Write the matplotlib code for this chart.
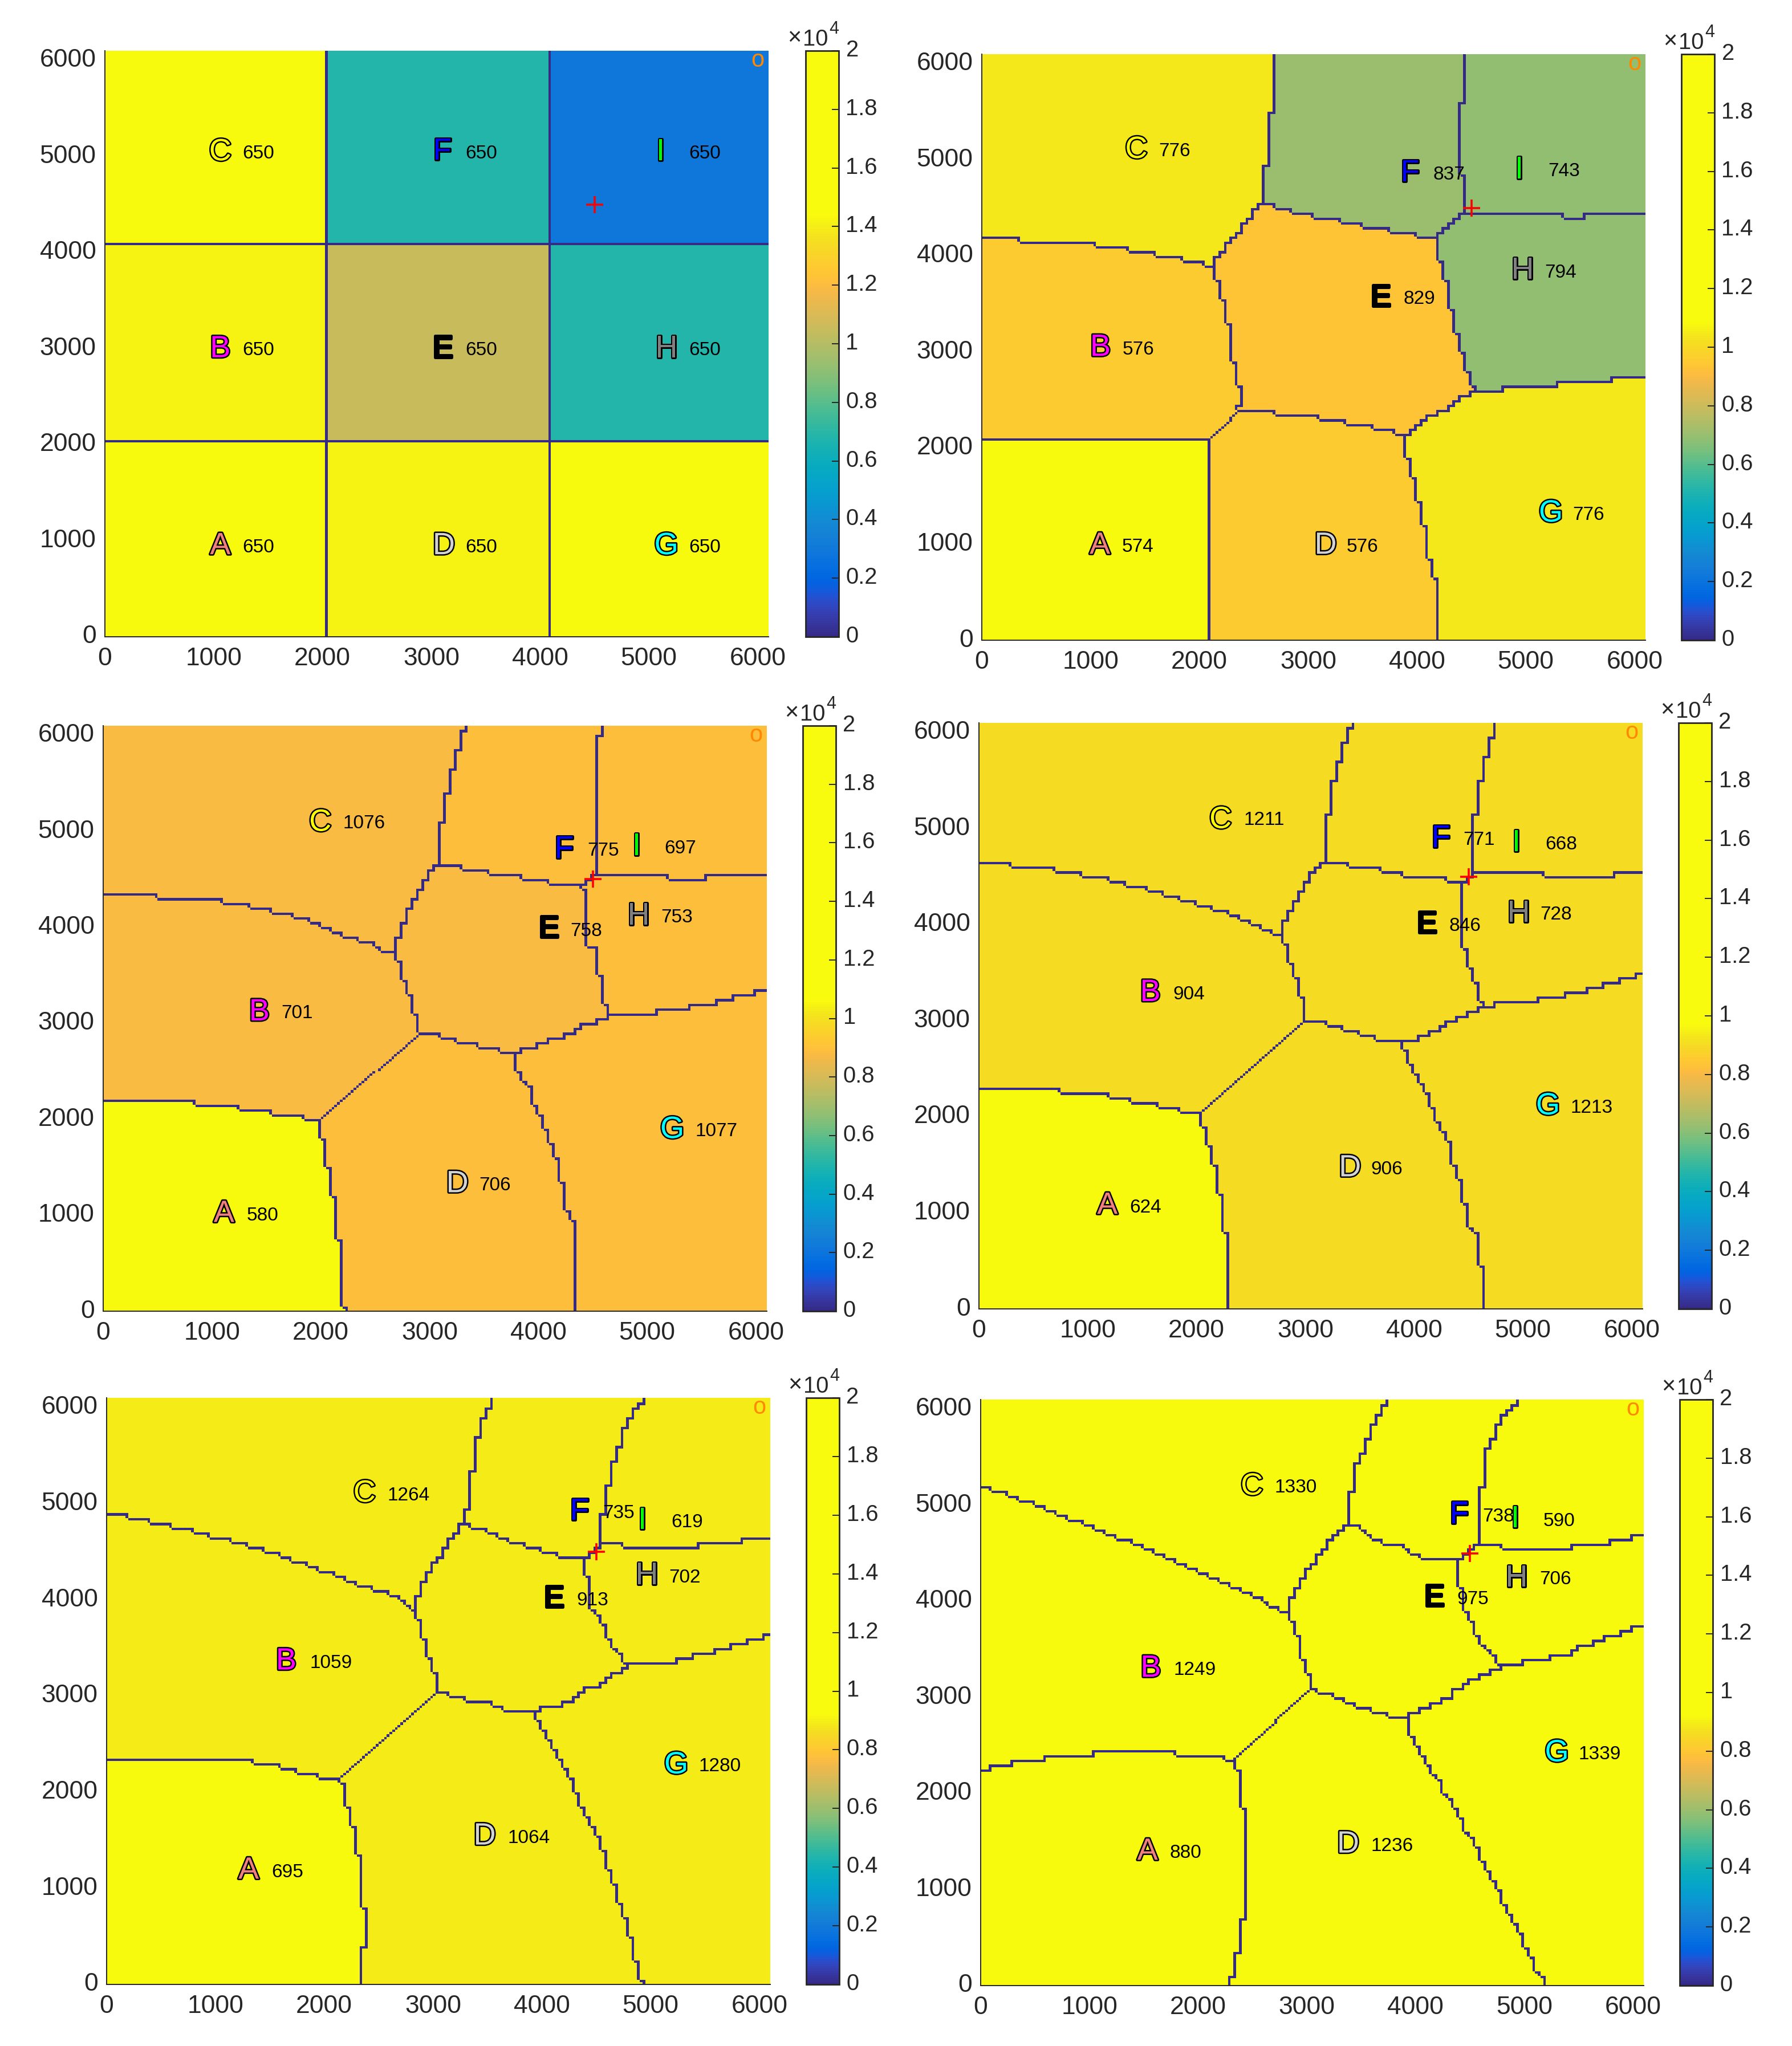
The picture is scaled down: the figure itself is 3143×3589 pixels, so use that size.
import numpy as np
import matplotlib
matplotlib.use("Agg")
import matplotlib.pyplot as plt
import matplotlib.patheffects as pe
from matplotlib.colors import ListedColormap, Normalize
from matplotlib.cm import ScalarMappable
from matplotlib.path import Path
from matplotlib.transforms import ScaledTranslation

plt.rcParams['font.family'] = ['Liberation Sans', 'DejaVu Sans']

LETTERS = list("ABCDEFGHI")
LETTER_COLORS = ['#f08080', '#ff00ff', '#ffff00', '#d3d3d3', '#000000', '#0000ff', '#00ffff', '#808080', '#00ff00']
TICKS_XY = [0, 1000, 2000, 3000, 4000, 5000, 6000]
CBAR_TICKS = [0, 2000, 4000, 6000, 8000, 10000, 12000, 14000, 16000, 18000, 20000]
CBAR_LABELS = ['0', '0.2', '0.4', '0.6', '0.8', '1', '1.2', '1.4', '1.6', '1.8', '2']

# colour-scale top (value at which the map reaches full yellow) per panel
CLAMPS = [14400, 10850, 10600, 9700, 9200, 9200]

# per panel: cell values A..I
P1_VALUES = [15000, 14200, 15000, 14200, 10500, 6860, 15000, 6860, 2900]
P2_VALUES = [11000, 9550, 10400, 9550, 9350, 7060, 10400, 6900, 6890]
P3_VALUES = [11000, 8800, 8800, 8950, 8750, 8950, 8950, 8950, 8950]
P4_VALUES = [10000, 9000, 9000, 9000, 9000, 9000, 9000, 9000, 9000]
P5_VALUES = [9500, 8950, 8950, 8950, 8950, 8950, 8950, 8950, 8950]
P6_VALUES = [12000, 12000, 12000, 12000, 12000, 12000, 12000, 12000, 12000]

# per panel: counts shown beside the letters, A..I
P1_COUNTS = [650, 650, 650, 650, 650, 650, 650, 650, 650]
P2_COUNTS = [574, 576, 776, 576, 829, 837, 776, 794, 743]
P3_COUNTS = [580, 701, 1076, 706, 758, 775, 1077, 753, 697]
P4_COUNTS = [624, 904, 1211, 906, 846, 771, 1213, 728, 668]
P5_COUNTS = [695, 1059, 1264, 1064, 913, 735, 1280, 702, 619]
P6_COUNTS = [880, 1249, 1330, 1236, 975, 738, 1339, 706, 590]

# letter and count positions, A..I
P1_LX = [1050, 1050, 1050, 3105, 3095, 3090, 5150, 5150, 5095]
P1_LY = [975, 3025, 5075, 975, 3025, 5080, 975, 3025, 5075]
P1_NX = [1405, 1405, 1405, 3455, 3455, 3455, 5510, 5510, 5510]
P1_NY = [960, 3010, 5060, 960, 3010, 5060, 960, 3010, 5060]
P2_LX = [1075, 1080, 1410, 3150, 3655, 3925, 5220, 4960, 4930]
P2_LY = [1015, 3075, 5135, 1015, 3590, 4890, 1350, 3875, 4925]
P2_NX = [1430, 1435, 1765, 3495, 4015, 4290, 5570, 5315, 5345]
P2_NY = [1000, 3055, 5120, 1000, 3580, 4875, 1335, 3855, 4910]
P3_LX = [1100, 1425, 1985, 3245, 4085, 4225, 5220, 4910, 4890]
P3_LY = [1045, 3145, 5120, 1355, 4010, 4840, 1920, 4145, 4870]
P3_NX = [1460, 1775, 2395, 3595, 4435, 4590, 5630, 5265, 5300]
P3_NY = [1025, 3135, 5110, 1340, 3990, 4825, 1905, 4130, 4850]
P4_LX = [1170, 1565, 2210, 3400, 4105, 4235, 5220, 4950, 4930]
P4_LY = [1105, 3320, 5120, 1495, 4030, 4925, 2140, 4145, 4880]
P4_NX = [1525, 1925, 2615, 3745, 4460, 4590, 5625, 5300, 5345]
P4_NY = [1085, 3305, 5120, 1480, 4015, 4910, 2120, 4135, 4860]
P5_LX = [1295, 1640, 2360, 3465, 4100, 4335, 5225, 4955, 4915]
P5_LY = [1215, 3390, 5135, 1570, 4040, 4945, 2310, 4280, 4850]
P5_NX = [1655, 2055, 2770, 3875, 4460, 4700, 5630, 5310, 5330]
P5_NY = [1195, 3370, 5115, 1550, 4020, 4930, 2295, 4260, 4835]
P6_LX = [1525, 1555, 2485, 3370, 4160, 4390, 5290, 4920, 4905]
P6_LY = [1425, 3330, 5225, 1500, 4065, 4930, 2450, 4270, 4885]
P6_NX = [1880, 1965, 2895, 3780, 4525, 4760, 5690, 5280, 5315]
P6_NY = [1410, 3315, 5215, 1480, 4050, 4910, 2435, 4255, 4865]

# region borders; each runs between two junctions or the frame
P1_AB = [(0, 2045), (2045, 2045)]
P1_AD = [(2045, 2045), (2045, 0)]
P1_BD = [(2045, 2045), (2045, 2045)]
P1_BC = [(0, 4090), (2045, 4090)]
P1_BE = [(2045, 2045), (2045, 4090)]
P1_CE = [(2045, 4090), (2045, 4090)]
P1_CF = [(2045, 4090), (2045, 6100)]
P1_EF = [(2045, 4090), (4090, 4090)]
P1_FH = [(4090, 4090), (4090, 4090)]
P1_FI = [(4090, 4090), (4090, 6100)]
P1_HI = [(4090, 4090), (6100, 4090)]
P1_EH = [(4090, 4090), (4090, 2045)]
P1_GH = [(4090, 2045), (6100, 2045)]
P1_EG = [(4090, 2045), (4090, 2045)]
P1_DE = [(2045, 2045), (4090, 2045)]
P1_DG = [(4090, 2045), (4090, 0)]

P2_AB = [(0, 2090), (2090, 2090)]
P2_AD = [(2090, 2090), (2090, 0)]
P2_BD = [(2090, 2090), (2300, 2300), (2370, 2395)]
P2_BC = [(0, 4190), (600, 4165), (1100, 4120), (1400, 4065), (1650, 4020), (1850, 3970), (2040, 3930), (2130, 3890)]
P2_BE = [(2370, 2395), (2390, 2600), (2340, 2800), (2290, 3200), (2240, 3500), (2190, 3730), (2130, 3890)]
P2_CE = [(2130, 3890), (2195, 4030), (2340, 4210), (2440, 4370), (2545, 4530), (2590, 4550)]
P2_CF = [(2590, 4550), (2600, 4900), (2650, 5000), (2650, 5450), (2700, 5550), (2700, 6100)]
P2_EF = [(2590, 4550), (2900, 4460), (3150, 4410), (3350, 4360), (3600, 4310), (3850, 4260), (4030, 4210), (4180, 4180)]
P2_FH = [(4180, 4180), (4430, 4440)]
P2_FI = [(4430, 4440), (4430, 4840), (4385, 4850), (4385, 5590), (4430, 5600), (4430, 6100)]
P2_HI = [(4430, 4440), (5340, 4440), (5370, 4395), (5530, 4395), (5560, 4440), (6100, 4440)]
P2_EH = [(4180, 4180), (4190, 4050), (4240, 3900), (4290, 3650), (4340, 3350), (4390, 3170), (4440, 2960), (4490, 2760), (4540, 2600)]
P2_GH = [(4540, 2600), (4780, 2600), (4800, 2640), (5280, 2640), (5320, 2690), (5790, 2690), (5800, 2740), (6100, 2740)]
P2_EG = [(3900, 2140), (4005, 2245), (4160, 2350), (4320, 2440), (4425, 2530), (4540, 2600)]
P2_DE = [(2370, 2395), (2590, 2390), (2990, 2340), (3300, 2290), (3530, 2240), (3750, 2190), (3900, 2140)]
P2_DG = [(3900, 2140), (3890, 2050), (3940, 1850), (3990, 1640), (4035, 1400), (4090, 1100), (4140, 720), (4190, 650), (4190, 0)]

P3_AB = [(0, 2240), (40, 2190), (730, 2190), (1140, 2140), (1450, 2090), (1745, 2040), (2000, 1995)]
P3_AD = [(2000, 1995), (2005, 1810), (2050, 1780), (2050, 1510), (2090, 1490), (2090, 1220), (2140, 1190), (2140, 760), (2185, 740), (2185, 60), (2250, 40), (2250, 0)]
P3_BD = [(2000, 1995), (2930, 2890)]
P3_BC = [(0, 4337), (680, 4320), (1140, 4270), (1400, 4215), (1600, 4165), (1800, 4110), (1950, 4060), (2050, 3990), (2170, 3940), (2300, 3890), (2410, 3840), (2550, 3820), (2590, 3740), (2685, 3735)]
P3_BE = [(2930, 2890), (2895, 2950), (2890, 3070), (2840, 3240), (2790, 3400), (2745, 3600), (2685, 3735)]
P3_CE = [(2685, 3735), (2700, 3850), (2740, 3940), (2790, 4120), (2850, 4240), (2905, 4350), (2955, 4440), (3010, 4555), (3060, 4640)]
P3_CF = [(3060, 4640), (3100, 4650), (3100, 5080), (3140, 5120), (3140, 5370), (3190, 5400), (3190, 5620), (3235, 5650), (3235, 5820), (3285, 5850), (3285, 6030), (3340, 6045), (3340, 6100)]
P3_EF = [(3060, 4640), (3290, 4630), (3600, 4570), (3900, 4520), (4150, 4460), (4390, 4432)]
P3_FH = [(4390, 4432), (4510, 4530)]
P3_FI = [(4510, 4530), (4540, 4545), (4540, 5965), (4590, 6000), (4590, 6100)]
P3_HI = [(4510, 4530), (5185, 4540), (5210, 4490), (5535, 4490), (5560, 4540), (6100, 4540)]
P3_EH = [(4390, 4432), (4435, 4370), (4440, 3805), (4535, 3780), (4535, 3495), (4585, 3490), (4585, 3190), (4645, 3180), (4645, 3070)]
P3_GH = [(4645, 3070), (4650, 3090), (5080, 3090), (5105, 3140), (5380, 3140), (5400, 3190), (5630, 3190), (5645, 3240), (5800, 3240), (5810, 3290), (5980, 3290), (6010, 3340), (6100, 3340)]
P3_EG = [(3794, 2680), (3900, 2740), (4030, 2785), (4160, 2845), (4290, 2895), (4450, 2990), (4645, 3070)]
P3_DE = [(2930, 2890), (3090, 2880), (3245, 2830), (3430, 2785), (3585, 2740), (3794, 2680)]
P3_DG = [(3794, 2680), (3785, 2640), (3850, 2440), (3925, 2330), (3990, 2100), (4055, 1990), (4110, 1805), (4145, 1695), (4200, 1490), (4240, 1240), (4290, 945), (4335, 930), (4335, 0)]

P4_AB = [(0, 2293), (730, 2280), (1190, 2225), (1440, 2170), (1700, 2120), (1910, 2060), (2050, 2030)]
P4_AD = [(2050, 2030), (2050, 1900), (2095, 1880), (2095, 1700), (2140, 1680), (2140, 1490), (2190, 1480), (2190, 1195), (2240, 1190), (2240, 800), (2290, 790), (2290, 0)]
P4_BD = [(2050, 2030), (3020, 3000)]
P4_BC = [(0, 4641), (380, 4620), (750, 4565), (1000, 4515), (1250, 4460), (1460, 4400), (1600, 4360), (1750, 4315), (1900, 4260), (2065, 4195), (2290, 4140), (2400, 4075), (2500, 4030), (2590, 3985), (2700, 3915), (2790, 3880)]
P4_BE = [(3020, 3000), (2985, 3190), (2945, 3380), (2895, 3545), (2840, 3735), (2790, 3880)]
P4_CE = [(2790, 3880), (2800, 3990), (2850, 4100), (2905, 4215), (2955, 4330), (3010, 4420), (3050, 4510), (3100, 4600), (3190, 4680)]
P4_CF = [(3190, 4680), (3190, 5120), (3245, 5150), (3245, 5470), (3295, 5500), (3295, 5690), (3350, 5710), (3350, 5890), (3390, 5910), (3390, 6030), (3440, 6045), (3440, 6100)]
P4_EF = [(3190, 4680), (3300, 4640), (3510, 4600), (3745, 4565), (3980, 4510), (4345, 4470), (4430, 4430)]
P4_FH = [(4430, 4430), (4540, 4540)]
P4_FI = [(4540, 4540), (4545, 5120), (4590, 5145), (4590, 5470), (4645, 5490), (4645, 5735), (4690, 5760), (4690, 5940), (4740, 5970), (4740, 6100)]
P4_HI = [(4540, 4540), (5185, 4540), (5200, 4490), (5830, 4490), (5850, 4540), (6100, 4540)]
P4_EH = [(4430, 4430), (4435, 3760), (4490, 3750), (4490, 3620), (4540, 3530), (4585, 3350), (4635, 3190), (4650, 3170)]
P4_GH = [(4650, 3170), (5115, 3190), (5160, 3240), (5370, 3240), (5410, 3290), (5580, 3290), (5600, 3340), (5740, 3340), (5760, 3385), (5900, 3385), (5920, 3440), (6050, 3440), (6060, 3490), (6100, 3490)]
P4_EG = [(3890, 2784), (3970, 2780), (4085, 2850), (4190, 2895), (4290, 2965), (4425, 3035), (4580, 3100), (4650, 3170)]
P4_DE = [(3020, 3000), (3190, 2985), (3375, 2920), (3560, 2850), (3745, 2795), (3890, 2784)]
P4_DG = [(3890, 2784), (3950, 2600), (4005, 2490), (4085, 2330), (4150, 2170), (4205, 2035), (4250, 1900), (4320, 1785), (4355, 1600), (4395, 1445), (4450, 1240), (4490, 1035), (4540, 800), (4590, 790), (4590, 450), (4640, 440), (4640, 0)]

P5_AB = [(0, 2348), (1235, 2345), (1600, 2270), (1810, 2215), (2005, 2165), (2165, 2145)]
P5_AD = [(2165, 2145), (2190, 2030), (2190, 1850), (2245, 1840), (2245, 1660), (2290, 1640), (2290, 1345), (2345, 1340), (2345, 795), (2390, 790), (2390, 405), (2345, 380), (2345, 0)]
P5_BD = [(2165, 2145), (3055, 3040)]
P5_BC = [(0, 4906), (200, 4880), (410, 4825), (610, 4770), (800, 4720), (960, 4675), (1160, 4625), (1310, 4575), (1460, 4520), (1615, 4470), (1720, 4425), (1875, 4370), (1965, 4325), (2110, 4280), (2215, 4220), (2375, 4140), (2530, 4095), (2660, 4040), (2770, 3955), (2840, 3895)]
P5_BE = [(3055, 3040), (3045, 3190), (2990, 3345), (2940, 3545), (2890, 3740), (2840, 3895)]
P5_CE = [(2840, 3895), (2840, 3945), (2890, 4120), (2940, 4230), (3000, 4345), (3100, 4505), (3160, 4600), (3240, 4735), (3300, 4805)]
P5_CF = [(3300, 4805), (3295, 4950), (3345, 4965), (3345, 5330), (3395, 5355), (3395, 5605), (3450, 5790), (3490, 5950), (3545, 6040), (3545, 6100)]
P5_EF = [(3300, 4805), (3475, 4735), (3595, 4665), (3735, 4620), (3870, 4555), (4050, 4505), (4210, 4450), (4420, 4445)]
P5_FH = [(4420, 4445), (4540, 4590)]
P5_FI = [(4540, 4590), (4540, 4815), (4590, 4965), (4640, 5300), (4690, 5515), (4745, 5675), (4785, 5815), (4840, 5950), (4890, 6020), (4945, 6050), (4945, 6100)]
P5_HI = [(4540, 4590), (4735, 4590), (4760, 4545), (5425, 4545), (5450, 4595), (5825, 4595), (5850, 4650), (6050, 4650), (6100, 4680)]
P5_EH = [(4420, 4445), (4392, 4438), (4392, 4255), (4445, 4230), (4445, 3935), (4495, 3910), (4550, 3795), (4600, 3680), (4645, 3545), (4735, 3450), (4800, 3300)]
P5_GH = [(4800, 3300), (4810, 3340), (5230, 3340), (5265, 3390), (5465, 3440), (5650, 3490), (5835, 3545), (5910, 3590), (6045, 3625), (6100, 3660)]
P5_EG = [(3925, 2845), (4180, 2925), (4340, 2995), (4420, 3085), (4575, 3140), (4655, 3225), (4800, 3300)]
P5_DE = [(3055, 3040), (3190, 3020), (3345, 2950), (3540, 2925), (3710, 2860), (3925, 2845)]
P5_DG = [(3925, 2845), (3975, 2740), (4025, 2650), (4080, 2535), (4130, 2445), (4180, 2330), (4235, 2215), (4285, 2125), (4325, 1985), (4375, 1870), (4420, 1755), (4480, 1640), (4535, 1505), (4585, 1345), (4630, 1205), (4680, 1045), (4720, 885), (4770, 700), (4810, 550), (4865, 360), (4890, 105), (4940, 60), (4940, 0)]

P6_AB = [(0, 2247), (85, 2247), (110, 2295), (285, 2295), (305, 2350), (590, 2350), (590, 2395), (1050, 2395), (1050, 2445), (1795, 2445), (1800, 2395), (2260, 2395), (2280, 2345), (2340, 2340)]
P6_AD = [(2340, 2340), (2340, 2250), (2385, 2230), (2385, 1860), (2430, 1840), (2430, 715), (2385, 690), (2385, 350), (2340, 325), (2340, 95), (2285, 75), (2285, 0)]
P6_BD = [(2340, 2340), (3045, 3090)]
P6_BC = [(0, 5205), (110, 5180), (250, 5130), (460, 5035), (600, 4985), (800, 4880), (1050, 4775), (1260, 4675), (1505, 4570), (1700, 4470), (1920, 4375), (2110, 4280), (2330, 4170), (2520, 4060), (2720, 3950), (2825, 3900)]
P6_BE = [(3045, 3090), (3035, 3240), (2980, 3395), (2940, 3580), (2890, 3765), (2825, 3900)]
P6_CE = [(2825, 3900), (2890, 4085), (2940, 4175), (2995, 4315), (3095, 4430), (3200, 4610), (3295, 4725), (3385, 4805)]
P6_CF = [(3385, 4805), (3385, 5140), (3430, 5165), (3430, 5390), (3530, 5575), (3580, 5715), (3630, 5875), (3685, 5990), (3735, 6040), (3735, 6100)]
P6_EF = [(3385, 4805), (3490, 4795), (3545, 4705), (3740, 4600), (3875, 4600), (3990, 4500), (4135, 4450), (4400, 4445)]
P6_FH = [(4400, 4445), (4575, 4600)]
P6_FI = [(4575, 4600), (4575, 5185), (4625, 5210), (4625, 5460), (4680, 5600), (4730, 5735), (4785, 5850), (4835, 5965), (4890, 6020), (4970, 6060), (4970, 6100)]
P6_HI = [(4575, 4600), (4775, 4600), (4800, 4555), (5420, 4555), (5445, 4600), (5795, 4600), (5815, 4650), (6015, 4650), (6020, 4695), (6100, 4695)]
P6_EH = [(4400, 4445), (4380, 4180), (4435, 4155), (4485, 3855), (4540, 3765), (4590, 3625), (4670, 3510), (4750, 3395), (4790, 3330)]
P6_GH = [(4790, 3330), (4970, 3340), (4995, 3395), (5245, 3395), (5265, 3445), (5440, 3445), (5460, 3500), (5560, 3550), (5690, 3580), (5770, 3625), (5885, 3675), (6005, 3720), (6100, 3775)]
P6_EG = [(3936, 2825), (4145, 2915), (4305, 3000), (4380, 3090), (4550, 3200), (4670, 3260), (4790, 3330)]
P6_DE = [(3045, 3090), (3230, 3030), (3410, 2960), (3490, 2895), (3700, 2850), (3855, 2795), (3936, 2825)]
P6_DG = [(3936, 2825), (3936, 2710), (4015, 2525), (4065, 2410), (4145, 2275), (4225, 2135), (4275, 2000), (4355, 1885), (4410, 1770), (4485, 1585), (4565, 1470), (4615, 1335), (4695, 1175), (4775, 1015), (4825, 875), (4890, 715), (4960, 580), (5010, 415), (5080, 305), (5125, 140), (5185, 70), (5185, 0)]

RED_X, RED_Y = [4500], [4500]
CORNER_X, CORNER_Y = 6000, 6000

PARULA = np.array([
    [0.2081,0.1663,0.5292],[0.2116,0.1898,0.5777],[0.2123,0.2138,0.6270],[0.2081,0.2386,0.6771],
    [0.1959,0.2645,0.7279],[0.1707,0.2919,0.7792],[0.1253,0.3242,0.8303],[0.0591,0.3598,0.8683],
    [0.0117,0.3875,0.8820],[0.0060,0.4086,0.8828],[0.0165,0.4266,0.8786],[0.0329,0.4430,0.8720],
    [0.0498,0.4586,0.8641],[0.0629,0.4737,0.8554],[0.0723,0.4887,0.8467],[0.0779,0.5040,0.8384],
    [0.0793,0.5200,0.8312],[0.0749,0.5375,0.8263],[0.0641,0.5570,0.8240],[0.0488,0.5772,0.8228],
    [0.0343,0.5966,0.8199],[0.0265,0.6137,0.8135],[0.0239,0.6287,0.8038],[0.0231,0.6418,0.7913],
    [0.0228,0.6535,0.7768],[0.0267,0.6642,0.7607],[0.0384,0.6743,0.7436],[0.0590,0.6838,0.7254],
    [0.0843,0.6928,0.7062],[0.1133,0.7015,0.6859],[0.1453,0.7098,0.6646],[0.1801,0.7177,0.6424],
    [0.2178,0.7250,0.6193],[0.2586,0.7317,0.5954],[0.3022,0.7376,0.5712],[0.3482,0.7424,0.5473],
    [0.3953,0.7459,0.5244],[0.4420,0.7481,0.5033],[0.4871,0.7491,0.4840],[0.5300,0.7491,0.4661],
    [0.5709,0.7485,0.4494],[0.6099,0.7473,0.4337],[0.6473,0.7456,0.4188],[0.6834,0.7435,0.4044],
    [0.7184,0.7411,0.3905],[0.7525,0.7384,0.3768],[0.7858,0.7356,0.3633],[0.8185,0.7327,0.3498],
    [0.8507,0.7299,0.3360],[0.8824,0.7274,0.3217],[0.9139,0.7258,0.3063],[0.9450,0.7261,0.2886],
    [0.9739,0.7314,0.2666],[0.9938,0.7455,0.2403],[0.9990,0.7653,0.2164],[0.9955,0.7861,0.1967],
    [0.9880,0.8066,0.1794],[0.9789,0.8271,0.1633],[0.9697,0.8481,0.1475],[0.9626,0.8705,0.1309],
    [0.9589,0.8949,0.1132],[0.9598,0.9218,0.0948],[0.9661,0.9514,0.0755],[0.9763,0.9831,0.0538]])

W, H = 3143, 3589
DARK = '#262626'
# axes frames in pixels: left, right, top, bottom, colorbar left, colorbar right
FRAMES = [
    (184, 1348, 89, 1117, 1413, 1471),
    (1722, 2886, 95, 1123, 2949, 3007),
    (181, 1345, 1273, 2300, 1408, 1466),
    (1717, 2881, 1268, 2296, 2944, 3002),
    (187, 1351, 2452, 3481, 1414, 1472),
    (1720, 2883, 2455, 3483, 2946, 3004),
]


def edges_of(p):
    return {k: globals()[f'P{p}_{k}'] for k in
            "AB AD BD BC BE CE CF EF FH FI HI EH GH EG DE DG".split()}


def polygons(e):
    r = lambda s: s[::-1]
    return [
        [(0, 0)] + e['AB'] + e['AD'],
        e['AB'] + e['BD'] + e['BE'] + r(e['BC']),
        e['BC'] + e['CE'] + e['CF'] + [(0, 6100)],
        r(e['AD']) + e['BD'] + e['DE'] + e['DG'],
        e['BE'] + e['CE'] + e['EF'] + e['EH'] + r(e['EG']) + r(e['DE']),
        e['EF'] + e['FH'] + e['FI'] + r(e['CF']),
        e['DG'] + [(6100, 0)] + r(e['GH']) + r(e['EG']),
        e['FH'] + e['HI'] + r(e['GH']) + r(e['EH']),
        e['FI'] + [(6100, 6100)] + r(e['HI']),
    ]


def raster(polys, step):
    n = int(round(6100 / step))
    c = (np.arange(n) + 0.5) * step
    X, Y = np.meshgrid(c, c)
    pts = np.column_stack([X.ravel(), Y.ravel()])
    lab = -np.ones(n * n, dtype=int)
    for k, poly in enumerate(polys):
        lab[Path(poly).contains_points(pts)] = k
    lab = lab.reshape(n, n)
    for _ in range(4):
        m = lab < 0
        if not m.any():
            break
        lab[m] = np.roll(lab, 1, axis=1)[m]
    lab[lab < 0] = 0
    return lab


def region_image(polys, values):
    coarse = np.kron(raster(polys, 50), np.ones((2, 2), dtype=int))
    fine = raster(polys, 25)
    m = np.isin(coarse, [1, 3]) & np.isin(fine, [1, 3])
    coarse[m] = fine[m]
    edge = np.zeros_like(coarse, dtype=bool)
    edge[:, :-1] |= coarse[:, :-1] != coarse[:, 1:]
    a, b = coarse[:-1, :], coarse[1:, :]
    # the B/D border is one cell per row, so its diagonal stays thin
    pair_bd = ((a == 1) & (b == 3)) | ((a == 3) & (b == 1))
    edge[:-1, :] |= (a != b) & ~pair_bd
    img = np.asarray(values, dtype=float)[coarse]
    img[edge] = 0
    return img


def panel_cmap(clamp):
    x = np.arange(256) / 255 * 20000 / clamp
    t = np.minimum(x, 1) * 63
    rgb = np.column_stack([np.interp(t, np.arange(64), PARULA[:, i]) for i in range(3)])
    return ListedColormap(rgb)


def px_shift(dx, dy):
    return ScaledTranslation(dx / 100, dy / 100, fig.dpi_scale_trans)


fig = plt.figure(figsize=(W / 100, H / 100), dpi=100)

for p, (l, r, t, b, cl, cr) in enumerate(FRAMES, start=1):
    ax = fig.add_axes([l / W, 1 - b / H, (r - l) / W, (b - t) / H])
    cmap = panel_cmap(CLAMPS[p - 1])
    norm = Normalize(0, 20000)
    polys = polygons(edges_of(p))
    img = region_image(polys, globals()[f'P{p}_VALUES'])
    ax.imshow(img, origin='lower', extent=[0, 6100, 0, 6100], aspect='auto',
              interpolation='nearest', cmap=cmap, norm=norm)
    ax.set_xlim(0, 6100)
    ax.set_ylim(0, 6100)
    ax.set_xticks(TICKS_XY)
    ax.set_yticks(TICKS_XY)
    ax.tick_params(length=0, labelsize=32, labelcolor=DARK)
    ax.tick_params(axis='x', pad=13)
    ax.tick_params(axis='y', pad=11)
    for lab in ax.get_yticklabels():
        lab.set_transform(lab.get_transform() + px_shift(0, 4.5))
    for s in ('top', 'right'):
        ax.spines[s].set_visible(False)
    for s in ('left', 'bottom'):
        ax.spines[s].set_color(DARK)
        ax.spines[s].set_linewidth(1.4)

    lx, ly = globals()[f'P{p}_LX'], globals()[f'P{p}_LY']
    nx, ny = globals()[f'P{p}_NX'], globals()[f'P{p}_NY']
    counts = globals()[f'P{p}_COUNTS']
    letter_tr = ax.transData + px_shift(2, -5.5)
    count_tr = ax.transData + px_shift(1, -5)
    for i in range(9):
        ax.text(lx[i], ly[i], LETTERS[i], color=LETTER_COLORS[i], fontsize=39,
                ha='center', va='center', transform=letter_tr,
                path_effects=[pe.withStroke(linewidth=3.6, foreground='black')])
        ax.text(nx[i], ny[i], str(counts[i]), color='black', fontsize=24,
                ha='center', va='center', transform=count_tr)
    ax.text(CORNER_X, CORNER_Y, 'o', color='#ff8800', fontsize=30, ha='center', va='center')
    ax.plot(RED_X, RED_Y, '+', color='#ff0000', ms=22, mew=2.6)

    cax = fig.add_axes([cl / W, 1 - b / H, (cr - cl) / W, (b - t) / H])
    cb = fig.colorbar(ScalarMappable(norm=norm, cmap=cmap), cax=cax)
    cb.set_ticks(CBAR_TICKS)
    cb.set_ticklabels(CBAR_LABELS)
    cb.ax.tick_params(direction='in', length=8.5, width=1.4, color=DARK, labelsize=28.8,
                      labelcolor=DARK, pad=9, right=True)
    for lab in cb.ax.get_yticklabels():
        lab.set_transform(lab.get_transform() + px_shift(0, 5))
    cb.outline.set_edgecolor(DARK)
    cb.outline.set_linewidth(2)

    fig.text((cl - 20) / W, 1 - (t - 21) / H, '×', fontsize=30, color=DARK, ha='center', va='center', fontweight='light')
    fig.text((cl - 5) / W, 1 - (t - 9) / H, '10', fontsize=28.8, color=DARK, ha='left', va='baseline')
    fig.text((cl + 41) / W, 1 - (t - 30) / H, '4', fontsize=22, color=DARK, ha='left', va='baseline')

fig.savefig('out.png', dpi=100)
